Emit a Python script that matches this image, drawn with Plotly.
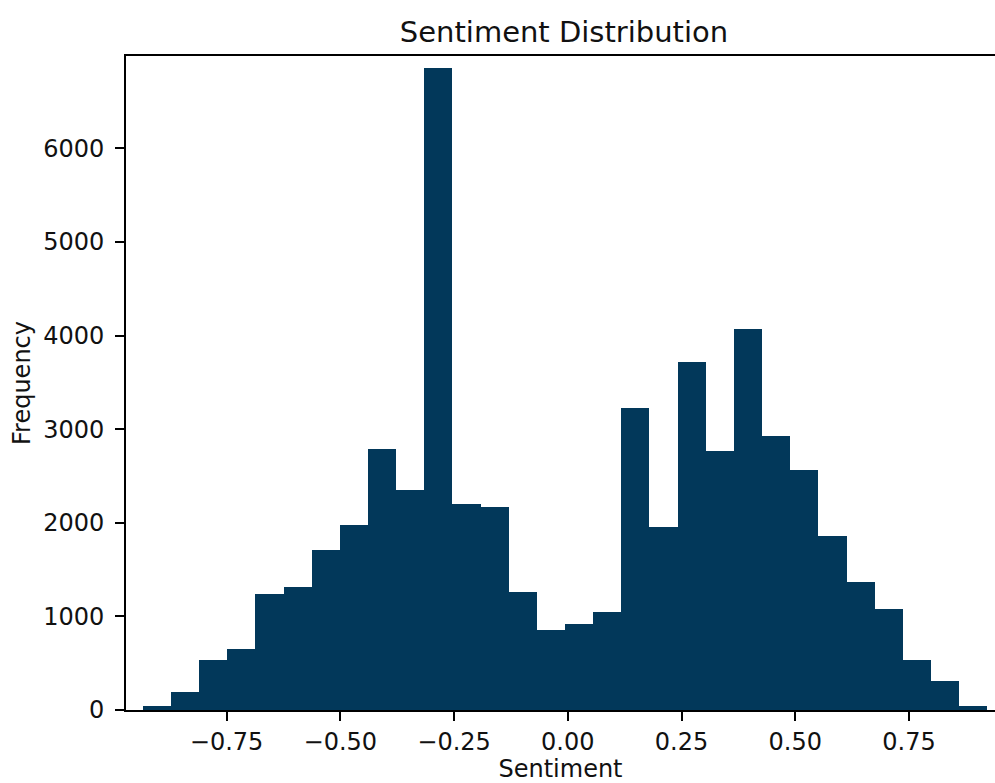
import numpy as np
import plotly.graph_objects as go

# Histogram data (30 equal-width bins)
bin_start = -0.934
bin_end = 0.922
n_bins = 30
counts = [40, 192, 534, 652, 1235, 1310, 1709, 1976, 2788, 2354,
          6855, 2201, 2165, 1257, 856, 915, 1047, 3226, 1955, 3718,
          2770, 4074, 2923, 2560, 1859, 1368, 1082, 534, 310, 38]

x_ticks = [-0.75, -0.50, -0.25, 0.00, 0.25, 0.50, 0.75]
x_tick_labels = ["\u22120.75", "\u22120.50", "\u22120.25", "0.00", "0.25", "0.50", "0.75"]
y_ticks = [0, 1000, 2000, 3000, 4000, 5000, 6000]
y_tick_labels = [str(v) for v in y_ticks]

edges = np.linspace(bin_start, bin_end, n_bins + 1)
centers = (edges[:-1] + edges[1:]) / 2
bw = edges[1] - edges[0]

fig = go.Figure(go.Bar(
    x=centers, y=counts, width=bw,
    marker=dict(color="#02385A", line=dict(width=0)),
    hoverinfo="x+y",
))

FONT = "DejaVu Sans"
fig.update_layout(
    width=995, height=783,
    margin=dict(l=126, r=0, t=56, b=73),
    paper_bgcolor="white", plot_bgcolor="white",
    font=dict(family=FONT, size=24, color="#111111"),
    showlegend=False,
    bargap=0,
    title=dict(text="Sentiment Distribution", x=564/995, xanchor="center",
               xref="container", y=1 - 42/783, yanchor="bottom",
               yref="container",
               font=dict(family=FONT, size=29, color="#111111")),
)
fig.update_xaxes(
    range=[-0.971, 0.939],
    tickvals=x_ticks, ticktext=x_tick_labels,
    ticks="outside", ticklen=9, tickwidth=1.9, tickcolor="#000000",
    showline=True, linewidth=1.9, linecolor="#000000", mirror=True,
    showgrid=False, zeroline=False,
    title=dict(text="Sentiment", standoff=4, font=dict(size=24)),
)
fig.update_yaxes(
    range=[0, 6987],
    tickvals=y_ticks, ticktext=y_tick_labels,
    ticks="outside", ticklen=9, tickwidth=1.9, tickcolor="#000000",
    showline=True, linewidth=1.9, linecolor="#000000",
    showgrid=False, zeroline=False,
    ticklabelstandoff=6,
    title=dict(text="Frequency", standoff=6, font=dict(size=24)),
)

fig.write_html("out.html",
               config={"displayModeBar": False},
               post_script="document.body.style.margin='0';document.body.style.overflow='hidden';")
